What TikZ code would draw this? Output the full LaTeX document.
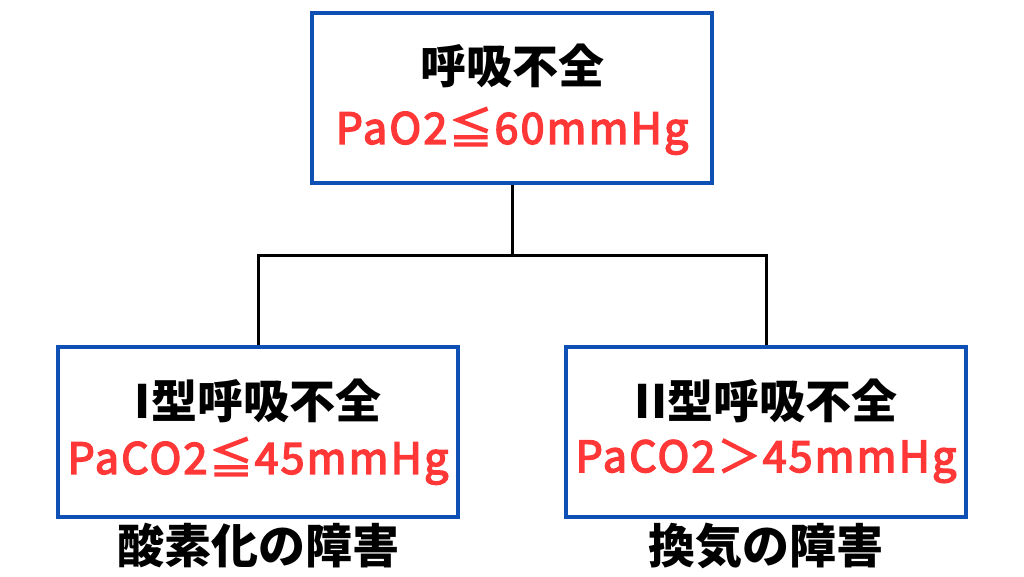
\documentclass[tikz,border=0pt]{standalone}
\usepackage{fontspec}
\newfontfamily\jp{Noto Sans CJK JP}
\definecolor{boxblue}{RGB}{14,80,180}
\definecolor{txtred}{RGB}{255,55,55}
\tikzset{
  box/.style={draw=boxblue, line width=4.5pt, fill=white, minimum width=400pt, minimum height=170pt, inner sep=0pt},
  head/.style={font={\jp\bfseries\fontsize{46pt}{46pt}\selectfont}, text=black, inner sep=0pt},
  cond/.style={font={\jp\fontsize{43pt}{43pt}\selectfont\addfontfeature{LetterSpace=5,FakeBold=3.5}}, text=txtred, inner sep=0pt},
  note/.style={font={\jp\bfseries\fontsize{47pt}{47pt}\selectfont}, text=black, inner sep=0pt},
  link/.style={line width=3pt, draw=black}
}
\begin{document}
\begin{tikzpicture}[x=1pt,y=-1pt]
\useasboundingbox (0,0) rectangle (1024,576);
\node[box] (top) at (512,98) {};
\node[box] (left) at (258,432) {};
\node[box] (right) at (766,432) {};
\coordinate (j) at (512,255);
\draw[link] (top.south) -- (j);
\draw[link] (left.north) |- (j) -| (right.north);
\node[head] (t1) at (512,66) {呼吸不全};
\node[cond] (t2) at (512,131) {PaO2≦60mmHg};
\node[head] (l1) at (258,401) {I型呼吸不全};
\node[cond] (l2) at (258,461) {PaCO2≦45mmHg};
\node[head] (r1) at (766,401) {II型呼吸不全};
\node[cond] (r2) at (766,461) {PaCO2＞45mmHg};
\node[note] (ln) at (258,546) {酸素化の障害};
\node[note] (rn) at (766,546) {換気の障害};
\end{tikzpicture}
\end{document}
